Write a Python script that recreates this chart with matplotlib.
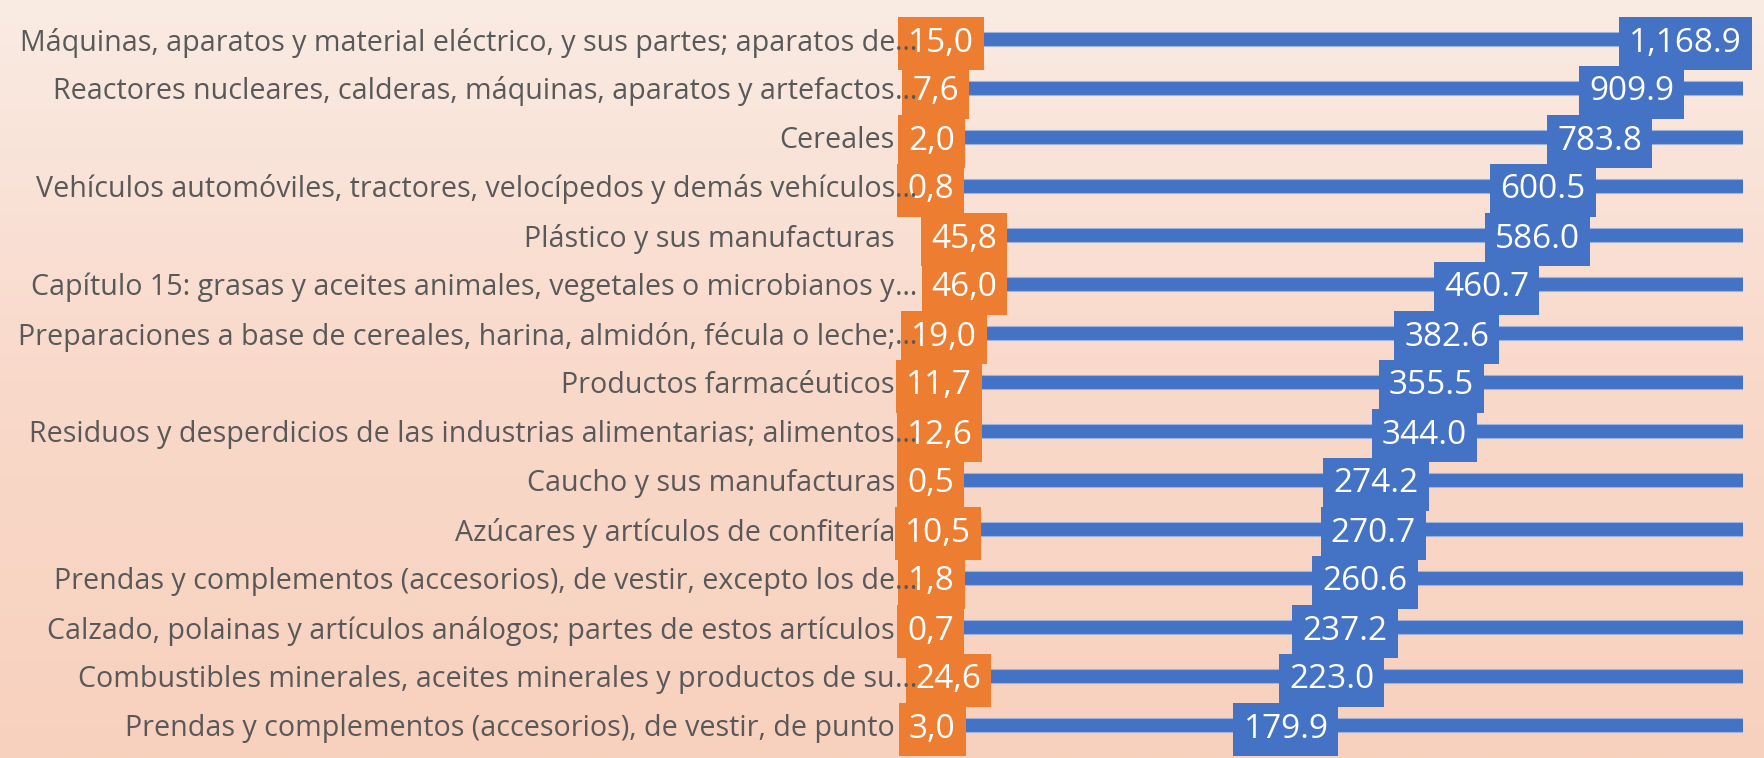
import numpy as np
import matplotlib
matplotlib.use("Agg")
import matplotlib.pyplot as plt
from matplotlib.colors import LinearSegmentedColormap

plt.rcParams['font.family'] = ['Open Sans', 'DejaVu Sans']

# ---------------- data ----------------
categories = [
    "Máquinas, aparatos y material eléctrico, y sus partes; aparatos de",
    "Reactores nucleares, calderas, máquinas, aparatos y artefactos",
    "Cereales",
    "Vehículos automóviles, tractores, velocípedos y demás vehículos",
    "Plástico y sus manufacturas",
    "Capítulo 15: grasas y aceites animales, vegetales o microbianos y",
    "Preparaciones a base de cereales, harina, almidón, fécula o leche;",
    "Productos farmacéuticos",
    "Residuos y desperdicios de las industrias alimentarias; alimentos",
    "Caucho y sus manufacturas",
    "Azúcares y artículos de confitería",
    "Prendas y complementos (accesorios), de vestir, excepto los de",
    "Calzado, polainas y artículos análogos; partes de estos artículos",
    "Combustibles minerales, aceites minerales y productos de su",
    "Prendas y complementos (accesorios), de vestir, de punto",
]
truncated = [True, True, False, True, False, True, True, False, True,
             False, False, True, False, True, False]
blue_values = [1168.9, 909.9, 783.8, 600.5, 586.0, 460.7, 382.6, 355.5,
               344.0, 274.2, 270.7, 260.6, 237.2, 223.0, 179.9]
orange_values = [15.0, 7.6, 2.0, 0.8, 45.8, 46.0, 19.0, 11.7, 12.6,
                 0.5, 10.5, 1.8, 0.7, 24.6, 3.0]

# ---------------- style ----------------
BLUE = "#4472C4"
ORANGE = "#ED7D31"
TEXT = "#595959"
BG_TOP = "#FAEBE3"
BG_BOT = "#F8D1BE"
CAT_FS = 20.6
VAL_FS = 24

W, H = 1765, 758
fig = plt.figure(figsize=(W / 100, H / 100), dpi=100)

# background gradient
bg = fig.add_axes([0, 0, 1, 1], zorder=-10)
grad = np.linspace(0, 1, 256).reshape(-1, 1)
cmap = LinearSegmentedColormap.from_list("bg", [BG_TOP, "#F9D9CA", BG_BOT])
bg.imshow(grad, aspect="auto", cmap=cmap, extent=[0, 1, 0, 1], origin="upper")
bg.set_axis_off()

# main axes
left_px, right_px = 930, 1743
top_px, bot_px = 14.5, 749.5
label_edge_px = 895
pad_pt = (left_px - label_edge_px) * 72 / 100

ax = fig.add_axes([left_px / W, (H - bot_px) / H,
                   (right_px - left_px) / W, (bot_px - top_px) / H])
ax.patch.set_visible(False)
n = len(categories)
y = np.arange(n)

ax.barh(y, blue_values, height=0.3, color=BLUE, edgecolor="#9DB2DC",
        linewidth=0.8, zorder=2)
ax.set_xlim(0, 150)
ax.set_ylim(n - 0.5, -0.5)
for s in ax.spines.values():
    s.set_visible(False)
ax.set_yticks(y)
ax.set_yticklabels(categories, fontsize=CAT_FS, color=TEXT)
ax.tick_params(axis="y", length=0, pad=pad_pt)

# orange labels (second series) on their own scale
ax_o = ax.twiny()
ax_o.set_xlim(0, (right_px - left_px) / 0.75)
ax_o.set_axis_off()
for i, v in enumerate(orange_values):
    ax_o.text(v, i, f"{v:.1f}".replace(".", ","), ha="center",
              va="center_baseline", fontsize=VAL_FS, color="white",
              bbox=dict(boxstyle="square,pad=0.3", fc=ORANGE, ec="none"),
              clip_on=False, zorder=4)
for i, t in enumerate(truncated):
    if t:
        ax_o.annotate("…", xy=(0, i), xycoords=("axes fraction", "data"),
                      xytext=(-pad_pt, 0), textcoords="offset points",
                      ha="left", va="center_baseline", fontsize=CAT_FS,
                      color=TEXT, zorder=6, annotation_clip=False)

# blue value labels positioned on a log scale
ax_b = ax.twiny()
ax_b.set_xscale("log")
ax_b.set_xlim(33.9, 1533)
ax_b.set_axis_off()
for i, v in enumerate(blue_values):
    ax_b.text(v, i, f"{v:,.1f}", ha="center", va="center_baseline",
              fontsize=VAL_FS, color="white",
              bbox=dict(boxstyle="square,pad=0.3", fc=BLUE, ec="none"),
              clip_on=False, zorder=4)

# twiny re-enables bottom ticks on the host axis; hide them again
ax.tick_params(axis="x", bottom=False, top=False,
               labelbottom=False, labeltop=False)

fig.savefig("out.png", dpi=100)
